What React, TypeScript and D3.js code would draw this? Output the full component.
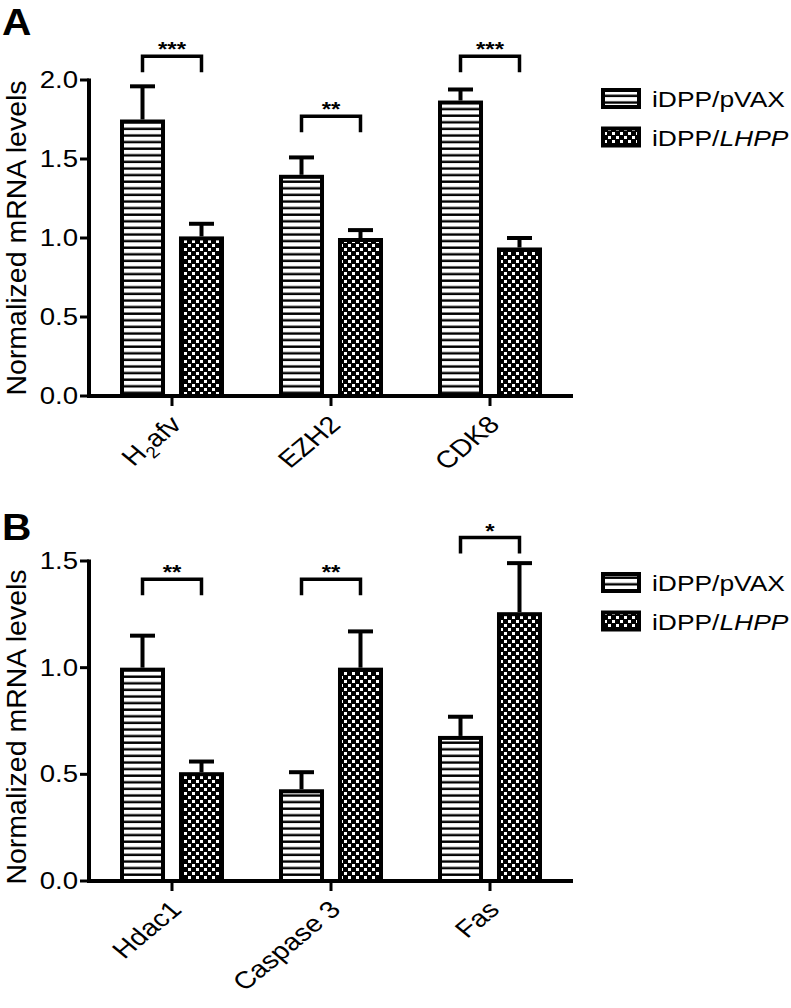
import React, { useEffect, useRef } from 'react'
import * as d3 from 'd3'

// Panel A
const panelACategories = ['H2afv', 'EZH2', 'CDK8']
const panelAControl = [1.75, 1.40, 1.87]
const panelAControlErr = [0.21, 0.11, 0.07]
const panelALhpp = [1.01, 1.00, 0.94]
const panelALhppErr = [0.08, 0.05, 0.06]
const panelASig = ['***', '**', '***']
const panelASigAt = [2.15, 1.77, 2.15]
const panelATicks = [0, 0.5, 1.0, 1.5, 2.0]

// Panel B
const panelBCategories = ['Hdac1', 'Caspase 3', 'Fas']
const panelBControl = [1.00, 0.43, 0.68]
const panelBControlErr = [0.15, 0.08, 0.09]
const panelBLhpp = [0.51, 1.00, 1.26]
const panelBLhppErr = [0.05, 0.17, 0.23]
const panelBSig = ['**', '**', '*']
const panelBSigAt = [1.415, 1.415, 1.61]
const panelBTicks = [0, 0.5, 1.0, 1.5]

const seriesNames = ['iDPP/pVAX', 'iDPP/LHPP']

const W = 791
const H = 1008
const FONT = "'Liberation Sans', Arial, Helvetica, sans-serif"
const SX = 1.2 // the figure is slightly stretched horizontally

function drawPanel(svg, cfg) {
  const g = svg.append('g')

  const x = d3.scaleBand()
    .domain(cfg.categories)
    .range([92.5, 569.5])
    .padding(0)

  const xSub = d3.scaleBand()
    .domain(seriesNames)
    .range([0, 104])
    .paddingInner(0.237)

  const y = d3.scaleLinear()
    .domain([0, cfg.yMax])
    .range([cfg.bottom, cfg.top])

  const fills = ['url(#stripes)', 'url(#checks)']

  // bars + error bars
  cfg.categories.forEach((cat, i) => {
    const gx = x(cat) + x.bandwidth() / 2 - 52
    const vals = [cfg.control[i], cfg.lhpp[i]]
    const errs = [cfg.controlErr[i], cfg.lhppErr[i]]
    seriesNames.forEach((s, j) => {
      const bx = gx + xSub(s)
      const bw = xSub.bandwidth()
      const cx = bx + bw / 2
      // error bar
      g.append('line')
        .attr('x1', cx).attr('x2', cx)
        .attr('y1', y(vals[j])).attr('y2', y(vals[j] + errs[j]))
        .attr('stroke', '#000').attr('stroke-width', 4)
      g.append('line')
        .attr('x1', cx - 12.5).attr('x2', cx + 12.5)
        .attr('y1', y(vals[j] + errs[j])).attr('y2', y(vals[j] + errs[j]))
        .attr('stroke', '#000').attr('stroke-width', 4)
      g.append('rect')
        .attr('x', bx + 2)
        .attr('y', y(vals[j]) + 2)
        .attr('width', bw - 4)
        .attr('height', y(0) - y(vals[j]) - 2)
        .attr('fill', fills[j])
        .attr('stroke', '#000')
        .attr('stroke-width', 4)
    })

    // significance bracket
    const x1 = gx + xSub(seriesNames[0]) + xSub.bandwidth() / 2
    const x2 = gx + xSub(seriesNames[1]) + xSub.bandwidth() / 2
    const by = y(cfg.sigAt[i])
    g.append('path')
      .attr('d', `M${x1},${by + 16}V${by}H${x2}V${by + 16}`)
      .attr('fill', 'none')
      .attr('stroke', '#000')
      .attr('stroke-width', 3.5)
    g.append('text')
      .attr('transform', `translate(${(x1 + x2) / 2},${by}) scale(${SX},1)`)
      .attr('text-anchor', 'middle')
      .style('font-family', FONT)
      .style('font-size', '20px')
      .style('font-weight', 'bold')
      .text(cfg.sig[i])
  })

  // y axis
  g.append('line')
    .attr('x1', 89).attr('x2', 89)
    .attr('y1', y(cfg.yMax) - 1.5).attr('y2', y(0) + 2)
    .attr('stroke', '#000').attr('stroke-width', 4)
  cfg.ticks.forEach(t => {
    g.append('line')
      .attr('x1', 80).attr('x2', 89)
      .attr('y1', y(t)).attr('y2', y(t))
      .attr('stroke', '#000').attr('stroke-width', 3)
    g.append('text')
      .attr('transform', `translate(78,${y(t) + 8}) scale(${SX},1)`)
      .attr('text-anchor', 'end')
      .style('font-family', FONT)
      .style('font-size', '23px')
      .text(d3.format('.1f')(t))
  })

  // y label
  g.append('text')
    .attr('transform', `translate(26,${cfg.labelMid}) rotate(-90)`)
    .attr('text-anchor', 'middle')
    .style('font-family', FONT)
    .style('font-size', '28.5px')
    .text('Normalized mRNA levels')

  // x axis
  g.append('line')
    .attr('x1', 87).attr('x2', 573)
    .attr('y1', y(0)).attr('y2', y(0))
    .attr('stroke', '#000').attr('stroke-width', 4)
  cfg.categories.forEach(cat => {
    const cx = x(cat) + x.bandwidth() / 2
    g.append('line')
      .attr('x1', cx).attr('x2', cx)
      .attr('y1', y(0)).attr('y2', y(0) + 10)
      .attr('stroke', '#000').attr('stroke-width', 3)
    const t = g.append('text')
      .attr('transform', `translate(${cx + 11},${y(0) + 30}) scale(${SX},1) rotate(-45)`)
      .attr('text-anchor', 'end')
      .style('font-family', FONT)
      .style('font-size', '24px')
    if (cat === 'H2afv') {
      t.append('tspan').text('H')
      t.append('tspan').attr('dy', 6).style('font-size', '16px').text('2')
      t.append('tspan').attr('dy', -6).text('afv')
    } else {
      t.text(cat)
    }
  })

  // legend
  seriesNames.forEach((s, j) => {
    const ly = cfg.legendY + j * 38.5
    g.append('rect')
      .attr('x', 603).attr('y', ly + 2)
      .attr('width', 36).attr('height', 17)
      .attr('fill', fills[j])
      .attr('stroke', '#000').attr('stroke-width', 4)
    const t = g.append('text')
      .attr('transform', `translate(652,${ly + 19}) scale(${SX},1)`)
      .style('font-family', FONT)
      .style('font-size', '22px')
    t.append('tspan').text('iDPP/')
    t.append('tspan')
      .style('font-style', j === 1 ? 'italic' : 'normal')
      .text(s.split('/')[1])
  })

  // panel letter
  g.append('text')
    .attr('transform', `translate(2,${cfg.letterY}) scale(1.1,1)`)
    .style('font-family', FONT)
    .style('font-size', '37px')
    .style('font-weight', 'bold')
    .text(cfg.letter)
}

function App() {
  const svgRef = useRef(null)

  useEffect(() => {
    const svg = d3.select(svgRef.current)
    svg.selectAll('*').remove()
    svg.attr('width', W).attr('height', H)

    svg.append('rect').attr('width', W).attr('height', H).attr('fill', '#fff')

    const defs = svg.append('defs')
    const stripes = defs.append('pattern')
      .attr('id', 'stripes')
      .attr('patternUnits', 'userSpaceOnUse')
      .attr('width', 10).attr('height', 6.6)
    stripes.append('rect').attr('width', 10).attr('height', 6.6).attr('fill', '#fff')
    stripes.append('rect').attr('y', 2.3).attr('width', 10).attr('height', 2.4).attr('fill', '#000')

    const checks = defs.append('pattern')
      .attr('id', 'checks')
      .attr('patternUnits', 'userSpaceOnUse')
      .attr('width', 8).attr('height', 8)
    checks.append('rect').attr('width', 8).attr('height', 8).attr('fill', '#000')
    checks.append('rect').attr('x', 0).attr('y', 0).attr('width', 3).attr('height', 3).attr('fill', '#fff')
    checks.append('rect').attr('x', 4).attr('y', 4).attr('width', 3).attr('height', 3).attr('fill', '#fff')

    drawPanel(svg, {
      categories: panelACategories,
      control: panelAControl,
      controlErr: panelAControlErr,
      lhpp: panelALhpp,
      lhppErr: panelALhppErr,
      sig: panelASig,
      sigAt: panelASigAt,
      ticks: panelATicks,
      yMax: 2.0,
      top: 80,
      bottom: 396,
      labelMid: 238,
      legendY: 88,
      letter: 'A',
      letterY: 35
    })

    drawPanel(svg, {
      categories: panelBCategories,
      control: panelBControl,
      controlErr: panelBControlErr,
      lhpp: panelBLhpp,
      lhppErr: panelBLhppErr,
      sig: panelBSig,
      sigAt: panelBSigAt,
      ticks: panelBTicks,
      yMax: 1.5,
      top: 561,
      bottom: 881,
      labelMid: 727,
      legendY: 572,
      letter: 'B',
      letterY: 540
    })
  }, [])

  return (
    <div style={{ position: 'absolute', left: 0, top: 0 }}>
      <svg ref={svgRef} style={{ display: 'block' }}></svg>
    </div>
  )
}

export default App
